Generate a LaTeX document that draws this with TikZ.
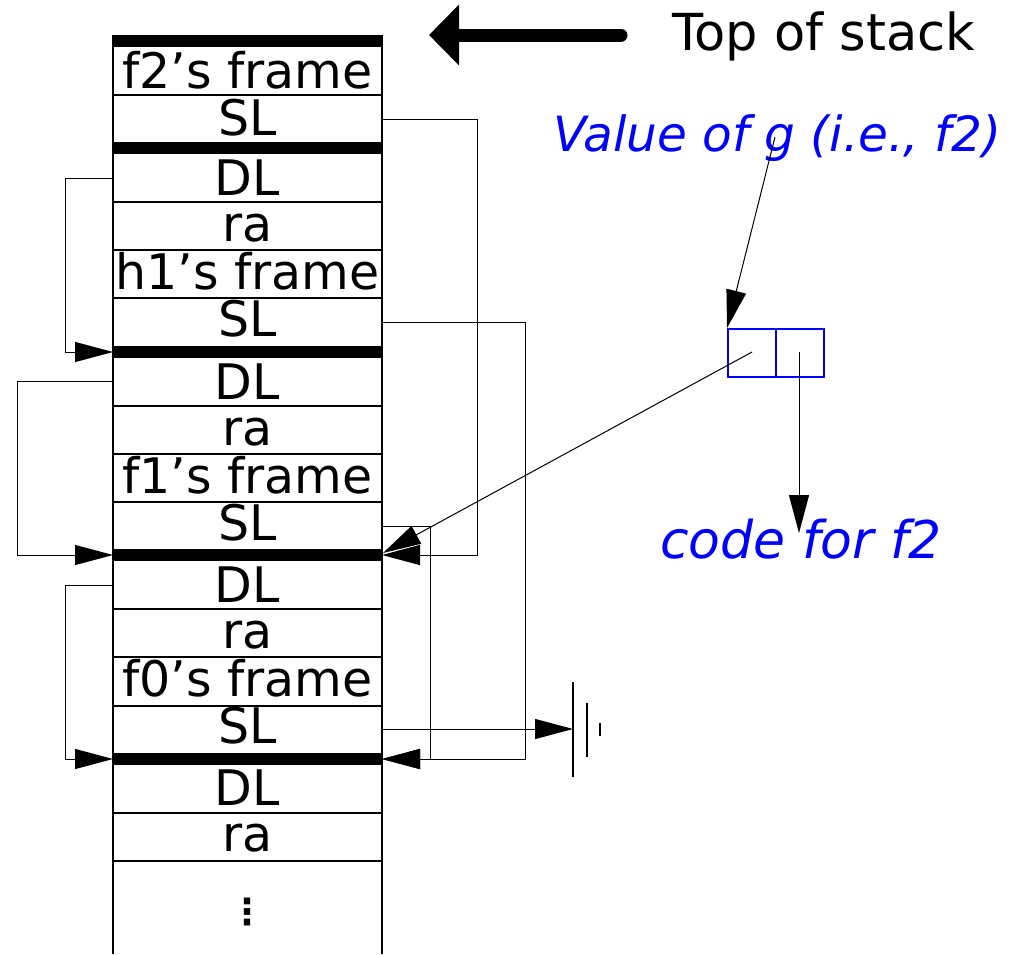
\documentclass[tikz,border=0pt]{standalone}
\usepackage{fontspec}
\setmainfont{DejaVu Sans}
\usetikzlibrary{arrows.meta}
\begin{document}
\begin{tikzpicture}[x=1pt,y=-1pt,
  lbl/.style={anchor=base, inner sep=0pt, font=\fontsize{49}{58}\selectfont},
  bluelbl/.style={anchor=base west, inner sep=0pt, text=blue, font=\fontsize{48.5}{58}\selectfont\itshape},
  conn/.style={line width=1pt, -{Triangle[length=38pt,width=20pt]}},
  bar/.style={line width=12pt},
  cellline/.style={line width=1.2pt},
  bluecell/.style={draw=blue, line width=1.5pt, minimum width=48pt, minimum height=48pt, inner sep=0pt, anchor=north west}]
\useasboundingbox (0,0) rectangle (1022,954);

% stack outline
\draw[cellline] (113,35) -- (113,954);
\draw[cellline] (382,35) -- (382,954);
\foreach \yy in {95,202,250,298,406,454,502,609,657,706,813,861}
  \draw[cellline] (113,\yy) -- (382,\yy);
\foreach \yy in {41,148,352,555,759}
  \draw[bar] (113,\yy) -- (382,\yy);

% labels
\node[lbl] (l1)  at (247.5,88)  {f2's frame};
\node[lbl] (l2)  at (247.5,135) {SL};
\node[lbl] (l3)  at (247.5,195) {DL};
\node[lbl] (l4)  at (247.5,241) {ra};
\node[lbl] (l5)  at (247.5,289) {h1's frame};
\node[lbl] (l6)  at (247.5,336) {SL};
\node[lbl] (l7)  at (247.5,399) {DL};
\node[lbl] (l8)  at (247.5,445) {ra};
\node[lbl] (l9)  at (247.5,493) {f1's frame};
\node[lbl] (l10) at (247.5,540) {SL};
\node[lbl] (l11) at (247.5,602) {DL};
\node[lbl] (l12) at (247.5,648) {ra};
\node[lbl] (l13) at (247.5,696) {f0's frame};
\node[lbl] (l14) at (247.5,743) {SL};
\node[lbl] (l15) at (247.5,805) {DL};
\node[lbl] (l16) at (247.5,851) {ra};
\node[inner sep=0pt, font=\fontsize{36}{40}\selectfont\bfseries] (dots) at (247.5,912) {⋮};

% connection points
\coordinate (f2sl) at (382,119);
\coordinate (f2dl) at (113,178);
\coordinate (h1sl) at (382,322);
\coordinate (h1dl) at (113,381);
\coordinate (f1sl) at (382,526);
\coordinate (f1dl) at (113,585);
\coordinate (f0sl) at (382,729);
\coordinate (h1L) at (113,352);
\coordinate (f1L) at (113,555);
\coordinate (f1R) at (382,555);
\coordinate (f0L) at (113,759);
\coordinate (f0R) at (382,759);
\coordinate (gnd) at (573,729);

% static links
\draw[conn] (f2sl) -- (477,119) -- (477,555) -- (f1R);
\draw[conn] (h1sl) -- (525,322) -- (525,759) -- (f0R);
\draw[conn] (f1sl) -- (430,526) -- (430,759) -- (f0R);
\draw[conn] (f0sl) -- (gnd);
% dynamic links
\draw[conn] (f2dl) -- (65,178) -- (65,352) -- (h1L);
\draw[conn] (h1dl) -- (17,381) -- (17,555) -- (f1L);
\draw[conn] (f1dl) -- (65,585) -- (65,759) -- (f0L);

% ground symbol
\draw[line width=1.5pt] (573,682) -- (573,777);
\draw[line width=1.5pt] (587,703) -- (587,757);
\draw[line width=1.2pt] (600,723) -- (600,736);

% top of stack
\node[anchor=base west, inner sep=0pt, font=\fontsize{51}{60}\selectfont] (tos) at (672,50) {Top of stack};
\coordinate (tosS) at (621,35);
\coordinate (tosE) at (429,35);
\draw[line width=13pt, line cap=round, -{Triangle[length=30pt,width=59pt]}] (tosS) -- (tosE);

% closure value
\node[bluelbl] (val) at (553,151) {Value of g (i.e., f2)};
\node[bluecell] (c1) at (727,328) {};
\node[bluecell] (c2) at (775,328) {};
\node[bluelbl, font=\fontsize{52}{60}\selectfont\itshape] (code) at (660,558) {code for f2};
\coordinate (gsrc) at (775,137);
\coordinate (c1p) at (752,352);
\coordinate (c2p) at (799,352);
\coordinate (codetip) at (799,533);
\draw[conn] (gsrc) -- (c1.north west);
\draw[conn] (c1p) -- (383,553);
\draw[conn] (c2p) -- (codetip);
\end{tikzpicture}
\end{document}
